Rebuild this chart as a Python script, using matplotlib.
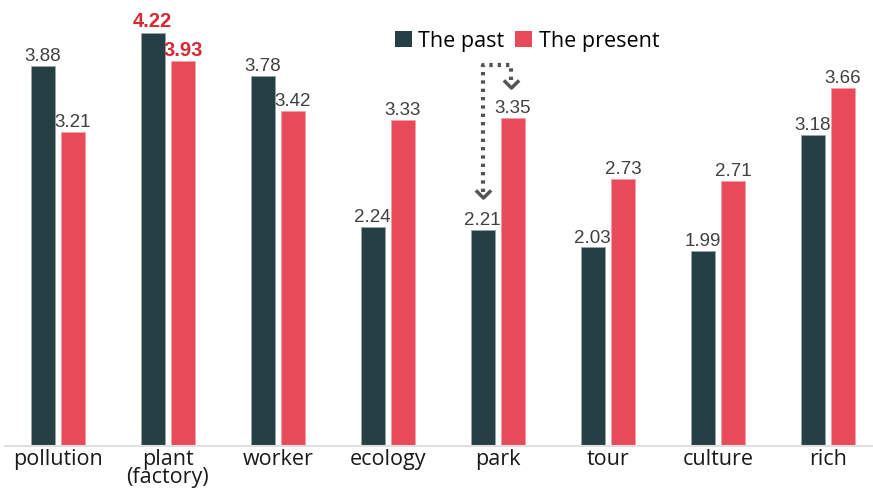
import matplotlib
matplotlib.use("Agg")
import matplotlib.pyplot as plt
from matplotlib.path import Path
from matplotlib.patches import Patch
import numpy as np

categories = ["pollution", "plant\n(factory)", "worker", "ecology", "park", "tour", "culture", "rich"]
past = [3.88, 4.22, 3.78, 2.24, 2.21, 2.03, 1.99, 3.18]
present = [3.21, 3.93, 3.42, 3.33, 3.35, 2.73, 2.71, 3.66]
series_names = ["The past", "The present"]
highlight_index = 1

c_past = "#253f45"
c_present = "#e84a5a"
c_label = "#404040"
c_hl = "#d42a34"
tick_font = ["Open Sans", "DejaVu Sans"]
num_font = ["Liberation Sans", "DejaVu Sans"]

fig = plt.figure(figsize=(8.73, 4.95), dpi=100)
ax = fig.add_axes([5/873, 1 - 446/495, 1 - 5/873, 446/495])

x = np.arange(len(categories))
w = 0.215
off = 0.137
ax.bar(x - off, past, w, color=c_past, edgecolor="#9aa5a8", linewidth=0.6)
ax.bar(x + off, present, w, color=c_present, edgecolor="#f2a0a8", linewidth=0.6)

ax.set_xlim(-0.48, 7.41)
ax.set_ylim(0, 4.555)
for s in ["top", "right", "left"]:
    ax.spines[s].set_visible(False)
ax.spines["bottom"].set_color("#e0e0e0")
ax.spines["bottom"].set_linewidth(1.5)
ax.set_yticks([])
ax.set_xticks(x)
ax.set_xticklabels(categories, fontsize=15.5, color="#1a1a1a",
                   family=tick_font, linespacing=0.8)
ax.tick_params(axis="x", length=0, pad=2.5)

for i in range(len(categories)):
    for xi, v in ((x[i] - off, past[i]), (x[i] + off, present[i])):
        if i == highlight_index:
            ax.annotate(f"{v:.2f}", (xi, v), xytext=(0, 1), textcoords="offset points",
                        ha="center", va="bottom", fontsize=14.5, fontweight="bold",
                        color=c_hl, family=num_font)
        else:
            ax.annotate(f"{v:.2f}", (xi, v), xytext=(0, 0.5), textcoords="offset points",
                        ha="center", va="bottom", fontsize=13.5, color=c_label,
                        family=num_font)

# dotted arrow annotation around "park"
k = categories.index("park")
top_y = 3.89
xl = x[k] - off + 0.005
xr = x[k] + off - 0.02
yl_end = past[k] + 0.38
yr_end = present[k] + 0.37
ax.plot([xl, xl, xr, xr], [yl_end, top_y, top_y, yr_end], linestyle=(0, (0.8, 1.2)),
        color="#555555", linewidth=3, solid_capstyle="butt", dash_capstyle="butt")
chev = Path([(-1, 0.8), (0, -0.2), (1, 0.8)], [Path.MOVETO, Path.LINETO, Path.LINETO])
ax.plot([xl, xr], [yl_end - 0.04, yr_end - 0.04], linestyle="none", marker=chev,
        markersize=11, markerfacecolor="none", markeredgecolor="#555555", markeredgewidth=2.5)

handles = [Patch(facecolor=c_past, edgecolor="none"), Patch(facecolor=c_present, edgecolor="none")]
fig.legend(handles, series_names, loc="center", bbox_to_anchor=(527/873, 1 - 41/495),
           ncol=2, frameon=False, handlelength=0.8, handleheight=0.8,
           handletextpad=0.3, columnspacing=0.5,
           prop={"family": tick_font, "size": 15.5})

fig.savefig("out.png", dpi=100)
